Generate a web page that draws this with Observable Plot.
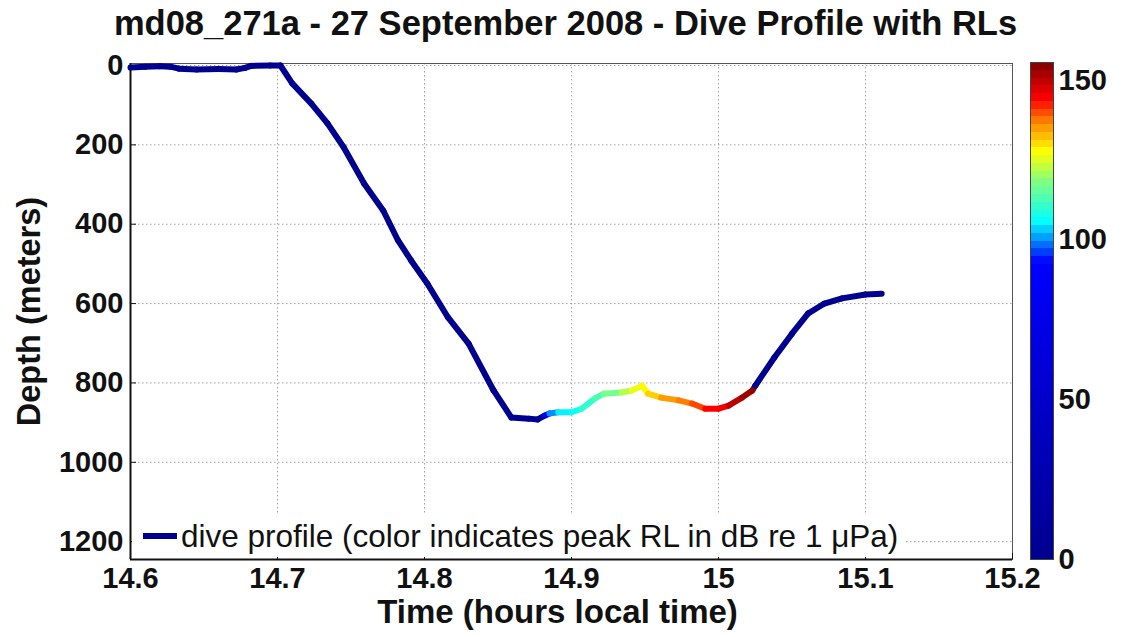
<!DOCTYPE html>
<html><head><meta charset="utf-8">
<script src="https://cdn.jsdelivr.net/npm/d3@7"></script>
<script src="https://cdn.jsdelivr.net/npm/@observablehq/plot@0.6"></script>
<style>
body{margin:0;background:#fff;font-family:"Liberation Sans",Arial,sans-serif;}
#wrap{position:relative;width:1125px;height:637px;overflow:hidden;background:#fff;}
#wrap svg{position:absolute;top:0;}
#legend{position:absolute;left:132px;top:515px;width:772px;height:42px;background:#fff;display:flex;align-items:center;}
#legend .swatch{width:34px;height:6px;background:#00008f;margin-left:11px;margin-right:4px;}
#legend .lt{font-size:31.5px;color:#111;white-space:nowrap;}
</style></head><body>
<div id="wrap"></div>
<script>
const titleText = "md08_271a - 27 September 2008 - Dive Profile with RLs";
const xLabel = "Time (hours local time)";
const yLabel = "Depth (meters)";
const legendText = "dive profile (color indicates peak RL in dB re 1 \u03bcPa)";

const time = [14.600,14.610,14.620,14.627,14.633,14.645,14.660,14.672,14.678,14.682,
  14.695,14.702,14.710,14.723,14.734,14.745,14.759,14.772,14.782,14.791,
  14.802,14.816,14.830,14.847,14.859,14.871,14.877,
  14.882,14.885,14.891,14.900,14.907,14.916,14.922,14.934,14.941,14.948,
  14.952,14.961,14.973,14.982,14.991,15.000,15.007,15.016,15.023,
  15.025,15.038,15.050,15.061,15.072,15.084,15.100,15.111];
const depth = [5,3,2,3,8,10,9,10,6,1,
  0,0,45,96,146,206,298,366,441,492,
  550,635,701,819,887,890,892,
  882,877,874,874,865,839,827,824,819,807,
  827,837,844,852,865,865,857,837,819,
  807,736,676,625,600,587,577,575];
const peakRL = [0,0,0,0,0,0,0,0,0,0,
  0,0,0,0,0,0,0,0,0,0,
  0,0,0,0,0,0,0,
  90,100,105,107,110,113,117,122,126,128,
  131,135,137,140,144,145,150,153,154,
  0,0,0,0,0,0,0,0];

const xTicks = [14.6,14.7,14.8,14.9,15.0,15.1,15.2];
const xTickLabels = ["14.6","14.7","14.8","14.9","15","15.1","15.2"];
const yTicks = [0,200,400,600,800,1000,1200];
const yTickLabels = ["0","200","400","600","800","1000","1200"];
const cbTicks = [0,50,100,150];
const cbMax = 155.6;
const colorStops = [0,93,105.6,118,127.5,137,144,155.6];
const colorRange = ["#00008f","#0000ff","#00ffff","#80ff80","#ffff00","#ff8000","#ff0000","#800000"];

const pts = time.map((t,i)=>({t, d:depth[i], rl:peakRL[i]}));
const segs = d3.pairs(pts).map(([a,b])=>({x1:a.t,y1:a.d,x2:b.t,y2:b.d,rl:a.rl}));
const colorOpt = {type:"linear", domain:colorStops, range:colorRange, clamp:true};
const font = "Liberation Sans, Arial, sans-serif";
const gridStyle = {stroke:"#666", strokeOpacity:0.6, strokeDasharray:"1.5,2.5"};

const main = Plot.plot({
  width:1125, height:637, marginTop:63, marginBottom:78, marginLeft:130, marginRight:113,
  style:{fontFamily:font, background:"transparent", color:"#111"},
  x:{domain:[14.6,15.2]},
  y:{domain:[-5,1245], reverse:true},
  color:colorOpt,
  marks:[
    Plot.gridX(xTicks, gridStyle),
    Plot.gridY(yTicks, gridStyle),
    Plot.frame({stroke:"#555", strokeWidth:1}),
    Plot.axisX(xTicks, {tickSize:-6, tickPadding:14, fontSize:29, fontWeight:"bold", tickFormat:(d,i)=>xTickLabels[i], label:null}),
    Plot.axisY(yTicks, {tickSize:-6, tickPadding:13, fontSize:29, fontWeight:"bold", tickFormat:(d,i)=>yTickLabels[i], label:null}),
    Plot.ruleX([14.6], {stroke:"#111", strokeWidth:2}),
    Plot.ruleY([1245], {stroke:"#111", strokeWidth:2}),
    Plot.link(segs, {x1:"x1", y1:"y1", x2:"x2", y2:"y2", stroke:"rl", strokeWidth:6, strokeLinecap:"round"}),
    Plot.text([titleText], {text:d=>d, frameAnchor:"top", lineAnchor:"middle", dy:-40, dx:-6, fontSize:34.5, fontWeight:"bold"}),
    Plot.text([xLabel], {text:d=>d, frameAnchor:"bottom", lineAnchor:"middle", dy:53, dx:-14, fontSize:33, fontWeight:"bold"}),
    Plot.text([yLabel], {text:d=>d, frameAnchor:"left", lineAnchor:"middle", textAnchor:"middle", dx:-101, rotate:-90, fontSize:32.5, fontWeight:"bold"})
  ]
});

const step = cbMax/64;
const cbLevels = d3.range(64).map(i=>i*step);
const cb = Plot.plot({
  width:125, height:637, marginTop:62, marginBottom:78, marginLeft:30, marginRight:72,
  style:{fontFamily:font, background:"transparent", color:"#111"},
  x:{domain:[0,1], axis:null},
  y:{domain:[0,cbMax]},
  color:colorOpt,
  marks:[
    Plot.rect(cbLevels, {x1:0, x2:1, y1:d=>d, y2:d=>d+step, fill:d=>d+step/2, inset:0, shapeRendering:"crispEdges"}),
    Plot.frame({stroke:"#444"}),
    Plot.axisY(cbTicks, {anchor:"right", tickSize:0, tickPadding:5, fontSize:29, fontWeight:"bold", label:null})
  ]
});

const wrap = document.getElementById("wrap");
main.style.left = "0px";
cb.style.left = "1000px";
wrap.appendChild(main);
wrap.appendChild(cb);
const lg = document.createElement("div");
lg.id = "legend";
lg.innerHTML = '<div class="swatch"></div><div class="lt"></div>';
lg.querySelector(".lt").textContent = legendText;
wrap.appendChild(lg);
</script>
</body></html>
